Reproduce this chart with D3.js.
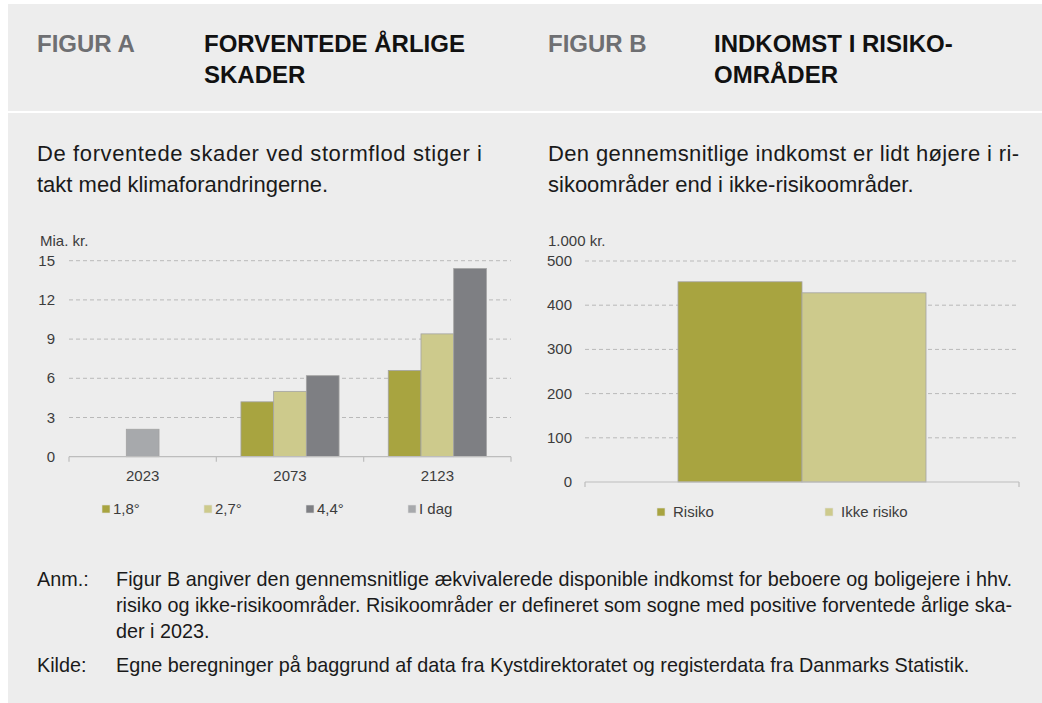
<!DOCTYPE html>
<html><head><meta charset="utf-8">
<script src="https://cdn.jsdelivr.net/npm/d3@7"></script>
<style>
html,body{margin:0;padding:0;background:#fff;}
svg{display:block;font-family:Arial,"Liberation Sans",sans-serif;}
</style></head>
<body>
<svg id="c" width="1042" height="703"></svg>
<script>
// ---- Data ----
const categoriesA = ["2023", "2073", "2123"];
const seriesA = ["1,8°", "2,7°", "4,4°", "I dag"];
const values18 = [null, 4.2, 6.6];
const values27 = [null, 5.0, 9.4];
const values44 = [null, 6.2, 14.4];
const valuesIdag = [2.1, null, null];
const ticksA = [0, 3, 6, 9, 12, 15];

const seriesB = ["Risiko", "Ikke risiko"];
const valuesB = [453, 428];
const ticksB = [0, 100, 200, 300, 400, 500];

const colorsA = {"1,8°": "#a8a440", "2,7°": "#cdca8c", "4,4°": "#7e7f83", "I dag": "#a7a9ac"};
const colorsB = {"Risiko": "#a8a440", "Ikke risiko": "#cdca8c"};

const svg = d3.select("#c");
const TXT = "#3c3c3c";

// ---- Background panels ----
svg.append("rect").attr("x", 8).attr("y", 4).attr("width", 1034).attr("height", 107).attr("fill", "#ededed");
svg.append("rect").attr("x", 8).attr("y", 113).attr("width", 1034).attr("height", 590).attr("fill", "#ededed");

// ---- Headers ----
function hdr(x, y, txt, fill) {
  svg.append("text").attr("x", x).attr("y", y).attr("font-size", 24).attr("font-weight", "bold")
    .attr("fill", fill).text(txt);
}
hdr(37, 52, "FIGUR A", "#6e6f72");
hdr(204, 52, "FORVENTEDE ÅRLIGE", "#111");
hdr(204, 83, "SKADER", "#111");
hdr(548, 52, "FIGUR B", "#6e6f72");
hdr(714, 52, "INDKOMST I RISIKO-", "#111");
hdr(714, 83, "OMRÅDER", "#111");

// ---- Subtitles ----
function sub(x, y, txt, len) {
  const t = svg.append("text").attr("x", x).attr("y", y).attr("font-size", 22).attr("fill", "#1a1a1a").text(txt);
  if (len) t.attr("textLength", len).attr("lengthAdjust", "spacing");
}
sub(37, 161, "De forventede skader ved stormflod stiger i", 445);
sub(37, 191.5, "takt med klimaforandringerne.");
sub(548, 161, "Den gennemsnitlige indkomst er lidt højere i ri-", 471);
sub(548, 191.5, "sikoområder end i ikke-risikoområder.");

// ---- Chart A ----
const yA = d3.scaleLinear().domain([0, 15]).range([456.7, 260.7]);
const xA = d3.scaleBand().domain(categoriesA).range([69, 511]).padding(0);
const gA = svg.append("g");
gA.selectAll("line.grid").data(ticksA.filter(d => d > 0)).join("line")
  .attr("x1", 69).attr("x2", 511).attr("y1", d => yA(d)).attr("y2", d => yA(d))
  .attr("stroke", "#b9b9b9").attr("stroke-dasharray", "4,3").attr("stroke-width", 1);
gA.selectAll("text.yt").data(ticksA).join("text")
  .attr("x", 55).attr("y", d => yA(d) + 5).attr("text-anchor", "end")
  .attr("font-size", 15).attr("fill", TXT).text(d => d);
gA.append("text").attr("x", 40).attr("y", 246).attr("font-size", 15).attr("fill", TXT).text("Mia. kr.");

const seriesValsA = {"1,8°": values18, "2,7°": values27, "4,4°": values44, "I dag": valuesIdag};
const barsA = [];
categoriesA.forEach((c, ci) => {
  const present = seriesA.filter(s => seriesValsA[s][ci] != null);
  present.forEach((s, i) => barsA.push({c, s, v: seriesValsA[s][ci], i, n: present.length}));
});
const bwA = xA.bandwidth() * 0.222;
gA.selectAll("rect.bar").data(barsA).join("rect")
  .attr("x", d => xA(d.c) + xA.bandwidth() / 2 + (d.i - (d.n - 1) / 2) * bwA - bwA / 2)
  .attr("width", bwA)
  .attr("y", d => yA(d.v)).attr("height", d => yA(0) - yA(d.v))
  .attr("fill", d => colorsA[d.s]).attr("stroke", "#a3a3a3").attr("stroke-width", 0.8);

gA.append("line").attr("x1", 69).attr("x2", 511).attr("y1", yA(0)).attr("y2", yA(0)).attr("stroke", "#bdbdbd").attr("stroke-width", 1.2);
const bndA = categoriesA.map(c => xA(c)).concat([xA(categoriesA[categoriesA.length - 1]) + xA.bandwidth()]);
gA.selectAll("line.tk").data(bndA).join("line")
  .attr("x1", d => d).attr("x2", d => d).attr("y1", yA(0)).attr("y2", yA(0) + 5)
  .attr("stroke", "#bdbdbd").attr("stroke-width", 1.2);
gA.selectAll("text.xt").data(categoriesA).join("text")
  .attr("x", d => xA(d) + xA.bandwidth() / 2).attr("y", 481).attr("text-anchor", "middle")
  .attr("font-size", 15).attr("fill", TXT).text(d => d);

// Legend A
const legA = gA.selectAll("g.leg").data(seriesA).join("g")
  .attr("transform", (d, i) => `translate(${102 + i * 102},0)`);
legA.append("rect").attr("x", 0).attr("y", 505).attr("width", 8).attr("height", 8)
  .attr("fill", d => colorsA[d]).attr("stroke", "#e0e0e0").attr("stroke-width", 0.6);
legA.append("text").attr("x", 11).attr("y", 514).attr("font-size", 15).attr("fill", TXT).text(d => d);

// ---- Chart B ----
const yB = d3.scaleLinear().domain([0, 500]).range([482, 261]);
const xB = d3.scaleBand().domain(seriesB).range([585, 1019]).paddingInner(0).paddingOuter(0.75);
const gB = svg.append("g");
gB.selectAll("line.grid").data(ticksB.filter(d => d > 0)).join("line")
  .attr("x1", 585).attr("x2", 1019).attr("y1", d => yB(d)).attr("y2", d => yB(d))
  .attr("stroke", "#b9b9b9").attr("stroke-dasharray", "4,3").attr("stroke-width", 1);
gB.selectAll("text.yt").data(ticksB).join("text")
  .attr("x", 572).attr("y", d => yB(d) + 5).attr("text-anchor", "end")
  .attr("font-size", 15).attr("fill", TXT).text(d => d);
gB.append("text").attr("x", 548).attr("y", 246).attr("font-size", 15).attr("fill", TXT).text("1.000 kr.");
gB.selectAll("rect.bar").data(seriesB).join("rect")
  .attr("x", d => xB(d)).attr("width", xB.bandwidth())
  .attr("y", (d, i) => yB(valuesB[i])).attr("height", (d, i) => yB(0) - yB(valuesB[i]))
  .attr("fill", d => colorsB[d]).attr("stroke", "#a3a3a3").attr("stroke-width", 0.8);
gB.append("line").attr("x1", 585).attr("x2", 1019).attr("y1", yB(0)).attr("y2", yB(0)).attr("stroke", "#bdbdbd").attr("stroke-width", 1.2);
gB.selectAll("line.tk").data([585, 1019]).join("line")
  .attr("x1", d => d).attr("x2", d => d).attr("y1", yB(0)).attr("y2", yB(0) + 5)
  .attr("stroke", "#bdbdbd").attr("stroke-width", 1.2);

const legB = gB.selectAll("g.leg").data(seriesB).join("g")
  .attr("transform", (d, i) => `translate(${657 + i * 168},0)`);
legB.append("rect").attr("x", 0).attr("y", 508).attr("width", 8).attr("height", 8)
  .attr("fill", d => colorsB[d]).attr("stroke", "#e0e0e0").attr("stroke-width", 0.6);
legB.append("text").attr("x", 16).attr("y", 517).attr("font-size", 15).attr("fill", TXT).text(d => d);

// ---- Notes ----
function note(x, y, txt, len) {
  const t = svg.append("text").attr("x", x).attr("y", y).attr("font-size", 19.8).attr("fill", "#1a1a1a").text(txt);
  if (len) t.attr("textLength", len).attr("lengthAdjust", "spacing");
}
note(37, 586, "Anm.:");
note(116, 586, "Figur B angiver den gennemsnitlige ækvivalerede disponible indkomst for beboere og boligejere i hhv.", 896);
note(116, 612, "risiko og ikke-risikoområder. Risikoområder er defineret som sogne med positive forventede årlige ska-", 896);
note(116, 638, "der i 2023.");
note(37, 672, "Kilde:");
note(116, 672, "Egne beregninger på baggrund af data fra Kystdirektoratet og registerdata fra Danmarks Statistik.");
</script>
</body></html>
